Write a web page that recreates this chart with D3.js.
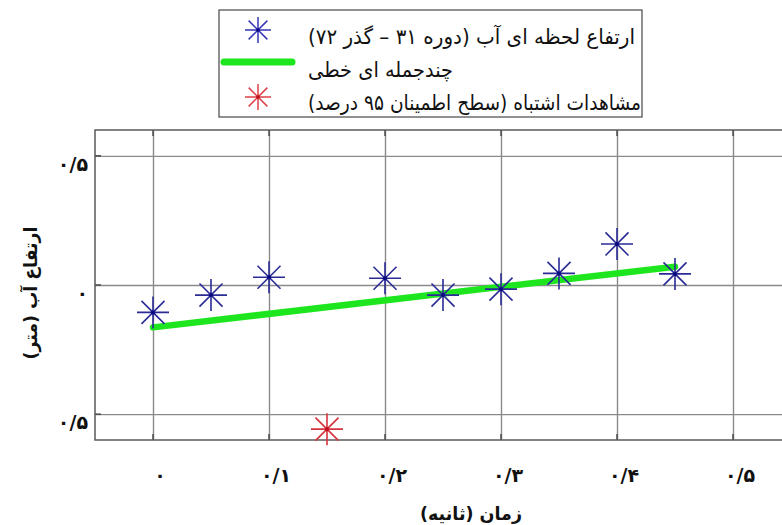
<!DOCTYPE html>
<html>
<head>
<meta charset="utf-8">
<script src="https://cdn.jsdelivr.net/npm/d3@7"></script>
<style>
  html, body { margin: 0; padding: 0; background: #fff; }
  svg { display: block; }
  text { font-family: "DejaVu Sans", sans-serif; }
</style>
</head>
<body>
<div id="chart"></div>
<script>
// ---- data ----
const obsTime = [0, 0.05, 0.1, 0.2, 0.25, 0.3, 0.35, 0.4, 0.45];
const obsHeight = [-0.106, -0.039, 0.030, 0.026, -0.039, -0.016, 0.045, 0.159, 0.043];
const outlierTime = [0.15];
const outlierHeight = [-0.558];
const fitTime = [0, 0.45];
const fitHeight = [-0.164, 0.071];
const xTickValues = [0, 0.1, 0.2, 0.3, 0.4, 0.5];
const xTickLabels = ["۰", "۰/۱", "۰/۲", "۰/۳", "۰/۴", "۰/۵"];
const yTickValues = [0.5, 0, -0.5];
const yTickLabels = ["۰/۵", "۰", "۰/۵"];
const legendLabels = [
  "ارتفاع لحظه ای آب (دوره ۳۱ – گذر ۷۲)",
  "چندجمله ای خطی",
  "مشاهدات اشتباه (سطح اطمینان ۹۵ درصد)"
];
const xTitle = "زمان (ثانیه)";
const yTitle = "ارتفاع آب (متر)";

// ---- layout ----
const W = 782, H = 525;
const plot = { left: 95, right: 849, top: 130, bottom: 440 };
const blue = "#2b2b96", blueDot = "#0a0a80";
const red = "#d6343f", green = "#1ee61e";

const svg = d3.select("#chart").append("svg").attr("width", W).attr("height", H);

const x = d3.scaleLinear().domain([-0.05, 0.6]).range([plot.left, plot.right]);
const y = d3.scaleLinear().domain([-0.6, 0.6]).range([plot.bottom, plot.top]);

function starPath(cx, cy, r) {
  const d = r * 0.72;
  return `M${cx - r},${cy}H${cx + r}M${cx},${cy - r}V${cy + r}` +
         `M${cx - d},${cy - d}L${cx + d},${cy + d}M${cx - d},${cy + d}L${cx + d},${cy - d}`;
}

// frame background
svg.append("rect").attr("x", plot.left).attr("y", plot.top)
  .attr("width", plot.right - plot.left).attr("height", plot.bottom - plot.top)
  .attr("fill", "#fff");

// grid via axes
const gx = svg.append("g").attr("transform", `translate(0,${plot.bottom})`)
  .call(d3.axisBottom(x).tickValues(xTickValues).tickSize(-(plot.bottom - plot.top)).tickFormat(""));
const gy = svg.append("g").attr("transform", `translate(${plot.left},0)`)
  .call(d3.axisLeft(y).tickValues(yTickValues).tickSize(-(plot.right - plot.left)).tickFormat(""));
[gx, gy].forEach(g => {
  g.select(".domain").remove();
  g.selectAll(".tick line").attr("stroke", "#8a8a8a").attr("stroke-width", 1.4);
});

// inner tick marks
const tickLen = 6;
svg.append("g").selectAll("path").data(xTickValues).join("path")
  .attr("d", d => `M${x(d)},${plot.top}v${tickLen}M${x(d)},${plot.bottom}v${-tickLen}`)
  .attr("stroke", "#444").attr("stroke-width", 1.4);
svg.append("g").selectAll("path").data(yTickValues).join("path")
  .attr("d", d => `M${plot.left},${y(d)}h${tickLen}`)
  .attr("stroke", "#444").attr("stroke-width", 1.4);

// frame
svg.append("rect").attr("x", plot.left).attr("y", plot.top)
  .attr("width", plot.right - plot.left).attr("height", plot.bottom - plot.top)
  .attr("fill", "none").attr("stroke", "#5a5a5a").attr("stroke-width", 1.5);

// tick labels
svg.append("g").selectAll("text").data(xTickValues).join("text")
  .attr("x", d => x(d) + 7).attr("y", 482)
  .attr("text-anchor", "middle").attr("font-size", 19).attr("font-weight", "bold")
  .attr("fill", "#111")
  .text((d, i) => xTickLabels[i]);
svg.append("g").selectAll("text").data(yTickValues).join("text")
  .attr("x", 88).attr("y", d => y(d) + 15)
  .attr("text-anchor", "end").attr("font-size", 19).attr("font-weight", "bold")
  .attr("fill", "#111")
  .text((d, i) => yTickLabels[i]);

// axis titles
svg.append("text").attr("x", 471).attr("y", 520)
  .attr("direction", "rtl").attr("text-anchor", "middle")
  .attr("font-size", 18).attr("font-weight", "bold").attr("fill", "#111")
  .attr("textLength", 102).attr("lengthAdjust", "spacingAndGlyphs")
  .text(xTitle);
svg.append("text").attr("transform", `translate(37,293) rotate(-90)`)
  .attr("direction", "rtl").attr("text-anchor", "middle")
  .attr("font-size", 18).attr("font-weight", "bold").attr("fill", "#111")
  .attr("textLength", 133).attr("lengthAdjust", "spacingAndGlyphs")
  .text(yTitle);

// fit line
const line = d3.line().x(d => x(d[0])).y(d => y(d[1]));
svg.append("path").datum(fitTime.map((t, i) => [t, fitHeight[i]]))
  .attr("d", line).attr("fill", "none").attr("stroke", green)
  .attr("stroke-width", 6.5).attr("stroke-linecap", "round");

// observations
const obs = obsTime.map((t, i) => [t, obsHeight[i]]);
const gObs = svg.append("g");
gObs.selectAll("path").data(obs).join("path")
  .attr("d", d => starPath(x(d[0]), y(d[1]), 16))
  .attr("stroke", blue).attr("stroke-width", 1.6).attr("fill", "none");
gObs.selectAll("circle").data(obs).join("circle")
  .attr("cx", d => x(d[0])).attr("cy", d => y(d[1])).attr("r", 2).attr("fill", blueDot);

const outl = outlierTime.map((t, i) => [t, outlierHeight[i]]);
const gOut = svg.append("g");
gOut.selectAll("path").data(outl).join("path")
  .attr("d", d => starPath(x(d[0]), y(d[1]), 16))
  .attr("stroke", red).attr("stroke-width", 1.6).attr("fill", "none");
gOut.selectAll("circle").data(outl).join("circle")
  .attr("cx", d => x(d[0])).attr("cy", d => y(d[1])).attr("r", 2).attr("fill", "#c01020");

// legend
const lg = svg.append("g");
lg.append("rect").attr("x", 219).attr("y", 10).attr("width", 423).attr("height", 107)
  .attr("fill", "#fff").attr("stroke", "#555").attr("stroke-width", 1.3);
const rowsY = [30, 62, 97];
lg.append("path").attr("d", starPath(258, rowsY[0], 13))
  .attr("stroke", "#3535b8").attr("stroke-width", 1.5).attr("fill", "none");
lg.append("circle").attr("cx", 258).attr("cy", rowsY[0]).attr("r", 1.8).attr("fill", blueDot);
lg.append("line").attr("x1", 224).attr("x2", 292).attr("y1", rowsY[1]).attr("y2", rowsY[1])
  .attr("stroke", green).attr("stroke-width", 7).attr("stroke-linecap", "round");
lg.append("path").attr("d", starPath(258, rowsY[2], 13))
  .attr("stroke", "#dd4048").attr("stroke-width", 1.5).attr("fill", "none");
lg.append("circle").attr("cx", 258).attr("cy", rowsY[2]).attr("r", 1.8).attr("fill", "#c01020");
const textBase = [44, 77, 110];
const textWidths = [327, 145, 333];
lg.selectAll("text.leg").data(legendLabels).join("text").attr("class", "leg")
  .attr("x", 308).attr("y", (d, i) => textBase[i])
  .attr("direction", "rtl").attr("text-anchor", "end")
  .attr("font-size", 21).attr("fill", "#111")
  .attr("textLength", (d, i) => textWidths[i]).attr("lengthAdjust", "spacingAndGlyphs")
  .text(d => d);
</script>
</body>
</html>
